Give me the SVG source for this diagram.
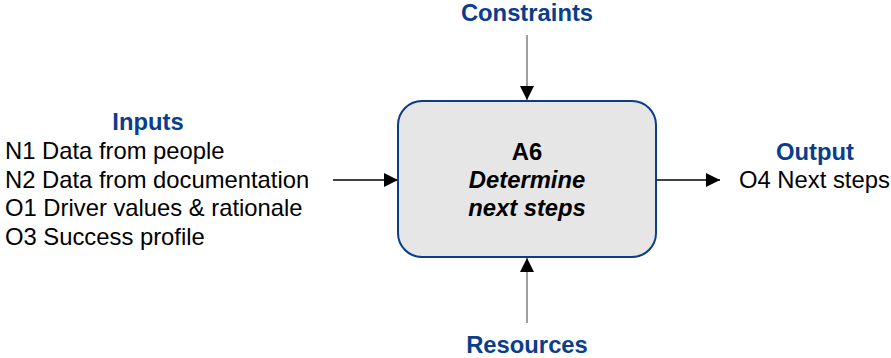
<svg xmlns="http://www.w3.org/2000/svg" width="891" height="358" viewBox="0 0 891 358">
<style>
text{font-family:"Liberation Sans",Arial,sans-serif;font-size:23.8px}
.hd{fill:#0a3d8a;font-weight:bold;text-anchor:middle}
.tx{fill:#000}
.ttl{fill:#000;font-weight:bold;text-anchor:middle}
.it{font-style:italic}
.box{fill:#e6e6e6;stroke:#0a3d8a;stroke-width:2}
.blk{stroke:#000;stroke-width:1.3;fill:none}
.gry{stroke:#7f7f7f;stroke-width:1.5;fill:none}
</style>
<defs>
<marker id="ah" viewBox="0 0 10 10" refX="10" refY="5" markerWidth="14" markerHeight="14" markerUnits="userSpaceOnUse" orient="auto">
<path d="M0,0 L10,5 L0,10 Z" fill="#000"/>
</marker>
</defs>
<g id="connectors">
<line class="gry" x1="527" y1="35" x2="527" y2="100" marker-end="url(#ah)"/>
<line class="gry" x1="527" y1="323" x2="527" y2="258" marker-end="url(#ah)"/>
<line class="blk" x1="333" y1="180" x2="398" y2="180" marker-end="url(#ah)"/>
<line class="blk" x1="656" y1="180" x2="720" y2="180" marker-end="url(#ah)"/>
</g>
<g id="A6">
<rect class="box" x="398" y="101" width="258" height="156" rx="24" ry="24"/>
<text class="ttl" x="527" y="160">A6</text>
<text class="ttl it" x="527" y="188">Determine</text>
<text class="ttl it" x="527" y="216">next steps</text>
</g>
<g id="constraints">
<text class="hd" x="527" y="21">Constraints</text>
</g>
<g id="resources">
<text class="hd" x="527" y="353">Resources</text>
</g>
<g id="inputs">
<text class="hd" x="148" y="130">Inputs</text>
<text class="tx" x="5" y="159">N1 Data from people</text>
<text class="tx" x="5" y="188">N2 Data from documentation</text>
<text class="tx" x="5" y="216">O1 Driver values &amp; rationale</text>
<text class="tx" x="5" y="245">O3 Success profile</text>
</g>
<g id="output">
<text class="hd" x="815" y="160">Output</text>
<text class="tx" x="739" y="188">O4 Next steps</text>
</g>
</svg>
